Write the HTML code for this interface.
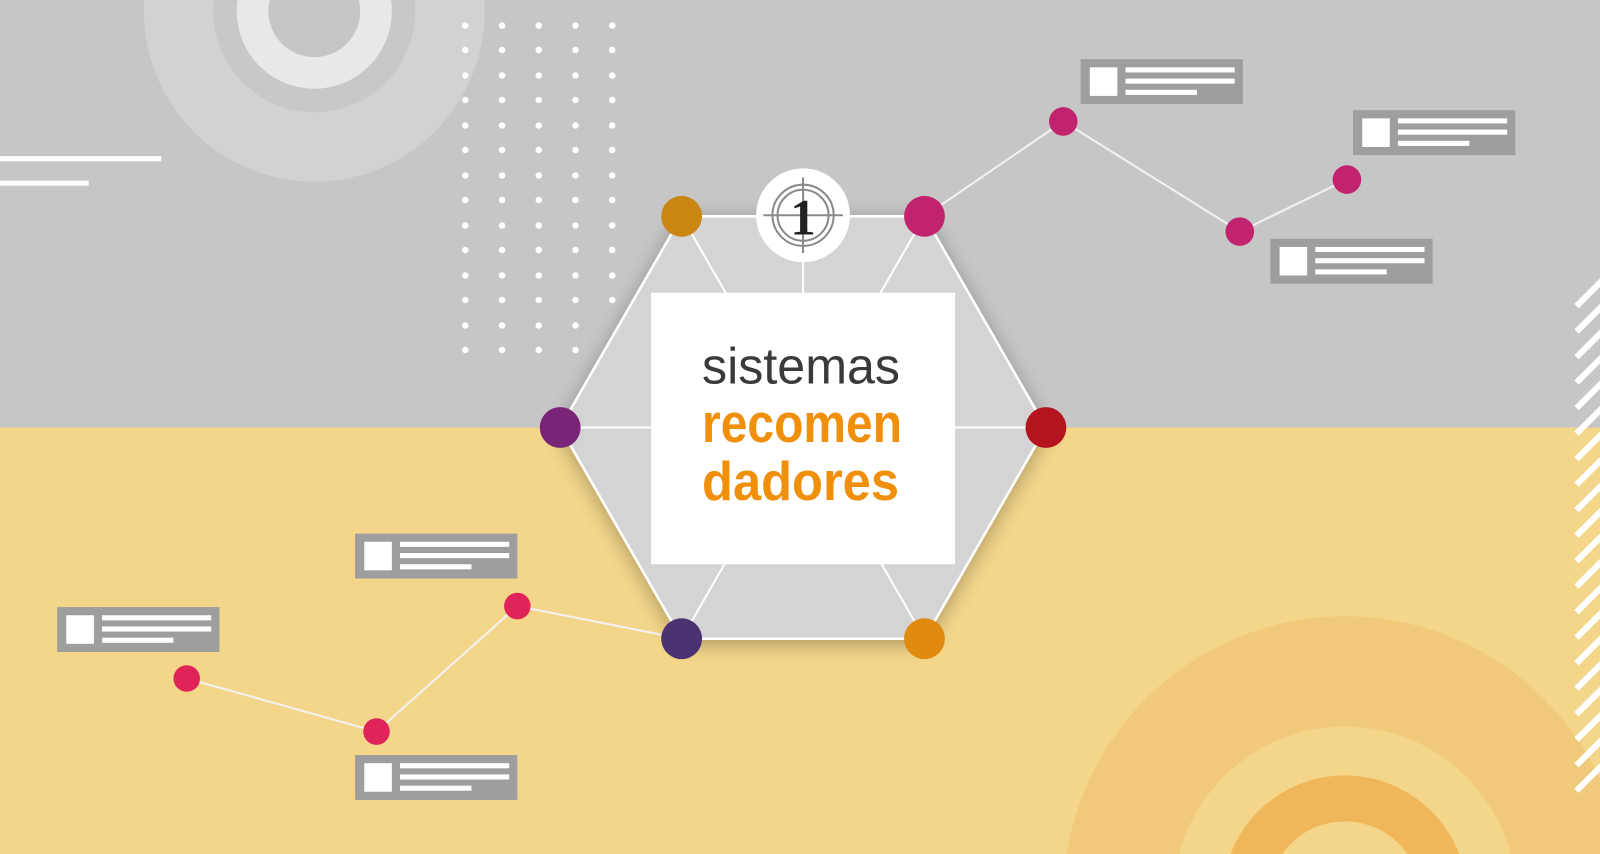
<!DOCTYPE html>
<html><head><meta charset="utf-8"><style>
html,body{margin:0;padding:0;width:1600px;height:854px;overflow:hidden;background:#c6c6c6}
svg{display:block}
</style></head><body>
<svg width="1600" height="854" viewBox="0 0 1568 837" preserveAspectRatio="none" xmlns="http://www.w3.org/2000/svg">
<defs>
<filter id="sh" x="-20%" y="-20%" width="140%" height="140%"><feGaussianBlur in="SourceAlpha" stdDeviation="10"/><feOffset dx="0" dy="4"/><feComponentTransfer><feFuncA type="linear" slope="0.3"/></feComponentTransfer><feMerge><feMergeNode/><feMergeNode in="SourceGraphic"/></feMerge></filter>
<clipPath id="stc"><rect x="1543" y="258" width="57" height="525"/></clipPath>
<g id="card"><rect width="159" height="44" fill="#9e9e9e"/><rect x="9" y="8" width="27" height="28" fill="#fff"/><rect x="44" y="8" width="107" height="5" fill="#fff"/><rect x="44" y="19" width="107" height="5" fill="#fff"/><rect x="44" y="30" width="70" height="5" fill="#fff"/></g>
</defs>
<rect width="1568" height="419" fill="#c6c6c6"/>
<rect y="419" width="1568" height="420" fill="#f3d68a"/>
<circle cx="308" cy="11" r="167" fill="#d2d2d2"/>
<circle cx="308" cy="11" r="99" fill="#c8c8c8"/>
<circle cx="308" cy="11" r="76" fill="#e8e8e8"/>
<circle cx="308" cy="11" r="45" fill="#c6c6c6"/>
<rect x="0" y="153" width="158" height="5" fill="#fff"/>
<rect x="0" y="177" width="87" height="5" fill="#fff"/>
<circle cx="1318" cy="880" r="276" fill="#f1c97a"/>
<circle cx="1318" cy="880" r="168" fill="#f3d68a"/>
<circle cx="1318" cy="880" r="120" fill="#efb75a"/>
<circle cx="1318" cy="880" r="75" fill="#f3d68a"/>
<g clip-path="url(#stc)" stroke="#fff" stroke-width="6">
<line x1="1545" y1="300" x2="1610" y2="235"/><line x1="1545" y1="325" x2="1610" y2="260"/><line x1="1545" y1="350" x2="1610" y2="285"/><line x1="1545" y1="375" x2="1610" y2="310"/><line x1="1545" y1="400" x2="1610" y2="335"/><line x1="1545" y1="425" x2="1610" y2="360"/><line x1="1545" y1="450" x2="1610" y2="385"/><line x1="1545" y1="475" x2="1610" y2="410"/><line x1="1545" y1="500" x2="1610" y2="435"/><line x1="1545" y1="525" x2="1610" y2="460"/><line x1="1545" y1="550" x2="1610" y2="485"/><line x1="1545" y1="575" x2="1610" y2="510"/><line x1="1545" y1="600" x2="1610" y2="535"/><line x1="1545" y1="625" x2="1610" y2="560"/><line x1="1545" y1="650" x2="1610" y2="585"/><line x1="1545" y1="675" x2="1610" y2="610"/><line x1="1545" y1="700" x2="1610" y2="635"/><line x1="1545" y1="725" x2="1610" y2="660"/><line x1="1545" y1="750" x2="1610" y2="685"/><line x1="1545" y1="775" x2="1610" y2="710"/>
</g>
<g stroke="#f2f2f2" stroke-width="2" fill="none">
<polyline points="906,212 1042,119 1215,227 1320,176"/>
<polyline points="668,626 507,594 369,717 183,665"/>
</g>
<use href="#card" x="1059" y="58"/>
<use href="#card" x="1326" y="108"/>
<use href="#card" x="1245" y="234"/>
<use href="#card" x="348" y="523"/>
<use href="#card" x="56" y="595"/>
<use href="#card" x="348" y="740"/>
<g fill="#c2236e"><circle cx="1042" cy="119" r="14"/><circle cx="1215" cy="227" r="14"/><circle cx="1320" cy="176" r="14"/></g>
<g fill="#e0245a"><circle cx="507" cy="594" r="13"/><circle cx="369" cy="717" r="13"/><circle cx="183" cy="665" r="13"/></g>
<polygon points="668,212 906,212 1025,419 906,626 668,626 549,419" fill="#d4d4d4" stroke="#fff" stroke-width="2.5" filter="url(#sh)"/>
<g stroke="#fff" stroke-width="2">
<line x1="668" y1="212" x2="906" y2="626"/><line x1="906" y1="212" x2="668" y2="626"/>
<line x1="549" y1="419" x2="1025" y2="419"/><line x1="787" y1="212" x2="787" y2="419"/>
</g>
<rect x="638" y="287" width="298" height="266" fill="#fff"/>
<text x="688" y="376" textLength="194" lengthAdjust="spacingAndGlyphs" font-family="'Liberation Sans',sans-serif" font-size="50" fill="#3a3a3a">sistemas</text>
<text x="688" y="433" textLength="196" lengthAdjust="spacingAndGlyphs" font-family="'Liberation Sans',sans-serif" font-size="54" font-weight="bold" fill="#f0900a">recomen</text>
<text x="688" y="490" textLength="193" lengthAdjust="spacingAndGlyphs" font-family="'Liberation Sans',sans-serif" font-size="54" font-weight="bold" fill="#f0900a">dadores</text>
<circle cx="787" cy="211" r="46" fill="#fff"/>
<g stroke="#8a8a8a" stroke-width="2" fill="none"><circle cx="787" cy="211" r="30"/><circle cx="787" cy="211" r="25"/><line x1="748" y1="211" x2="826" y2="211"/><line x1="787" y1="174" x2="787" y2="248"/></g>
<text x="787" y="230" text-anchor="middle" font-family="'Liberation Serif',serif" font-size="50" font-weight="bold" fill="#222">1</text>
<circle cx="668" cy="212" r="20" fill="#c98612"/>
<circle cx="906" cy="212" r="20" fill="#c2236e"/>
<circle cx="1025" cy="419" r="20" fill="#b3141e"/>
<circle cx="906" cy="626" r="20" fill="#e08a10"/>
<circle cx="668" cy="626" r="20" fill="#4b3272"/>
<circle cx="549" cy="419" r="20" fill="#7a2478"/>
<g fill="#fff">
<circle cx="456" cy="25" r="3.2"/><circle cx="492" cy="25" r="3.2"/><circle cx="528" cy="25" r="3.2"/><circle cx="564" cy="25" r="3.2"/><circle cx="600" cy="25" r="3.2"/>
<circle cx="456" cy="49" r="3.2"/><circle cx="492" cy="49" r="3.2"/><circle cx="528" cy="49" r="3.2"/><circle cx="564" cy="49" r="3.2"/><circle cx="600" cy="49" r="3.2"/>
<circle cx="456" cy="74" r="3.2"/><circle cx="492" cy="74" r="3.2"/><circle cx="528" cy="74" r="3.2"/><circle cx="564" cy="74" r="3.2"/><circle cx="600" cy="74" r="3.2"/>
<circle cx="456" cy="98" r="3.2"/><circle cx="492" cy="98" r="3.2"/><circle cx="528" cy="98" r="3.2"/><circle cx="564" cy="98" r="3.2"/><circle cx="600" cy="98" r="3.2"/>
<circle cx="456" cy="123" r="3.2"/><circle cx="492" cy="123" r="3.2"/><circle cx="528" cy="123" r="3.2"/><circle cx="564" cy="123" r="3.2"/><circle cx="600" cy="123" r="3.2"/>
<circle cx="456" cy="147" r="3.2"/><circle cx="492" cy="147" r="3.2"/><circle cx="528" cy="147" r="3.2"/><circle cx="564" cy="147" r="3.2"/><circle cx="600" cy="147" r="3.2"/>
<circle cx="456" cy="172" r="3.2"/><circle cx="492" cy="172" r="3.2"/><circle cx="528" cy="172" r="3.2"/><circle cx="564" cy="172" r="3.2"/><circle cx="600" cy="172" r="3.2"/>
<circle cx="456" cy="196" r="3.2"/><circle cx="492" cy="196" r="3.2"/><circle cx="528" cy="196" r="3.2"/><circle cx="564" cy="196" r="3.2"/><circle cx="600" cy="196" r="3.2"/>
<circle cx="456" cy="221" r="3.2"/><circle cx="492" cy="221" r="3.2"/><circle cx="528" cy="221" r="3.2"/><circle cx="564" cy="221" r="3.2"/><circle cx="600" cy="221" r="3.2"/>
<circle cx="456" cy="245" r="3.2"/><circle cx="492" cy="245" r="3.2"/><circle cx="528" cy="245" r="3.2"/><circle cx="564" cy="245" r="3.2"/><circle cx="600" cy="245" r="3.2"/>
<circle cx="456" cy="270" r="3.2"/><circle cx="492" cy="270" r="3.2"/><circle cx="528" cy="270" r="3.2"/><circle cx="564" cy="270" r="3.2"/><circle cx="600" cy="270" r="3.2"/>
<circle cx="456" cy="294" r="3.2"/><circle cx="492" cy="294" r="3.2"/><circle cx="528" cy="294" r="3.2"/><circle cx="564" cy="294" r="3.2"/><circle cx="600" cy="294" r="3.2"/>
<circle cx="456" cy="319" r="3.2"/><circle cx="492" cy="319" r="3.2"/><circle cx="528" cy="319" r="3.2"/><circle cx="564" cy="319" r="3.2"/>
<circle cx="456" cy="343" r="3.2"/><circle cx="492" cy="343" r="3.2"/><circle cx="528" cy="343" r="3.2"/><circle cx="564" cy="343" r="3.2"/>
</g>
</svg>
</body></html>
